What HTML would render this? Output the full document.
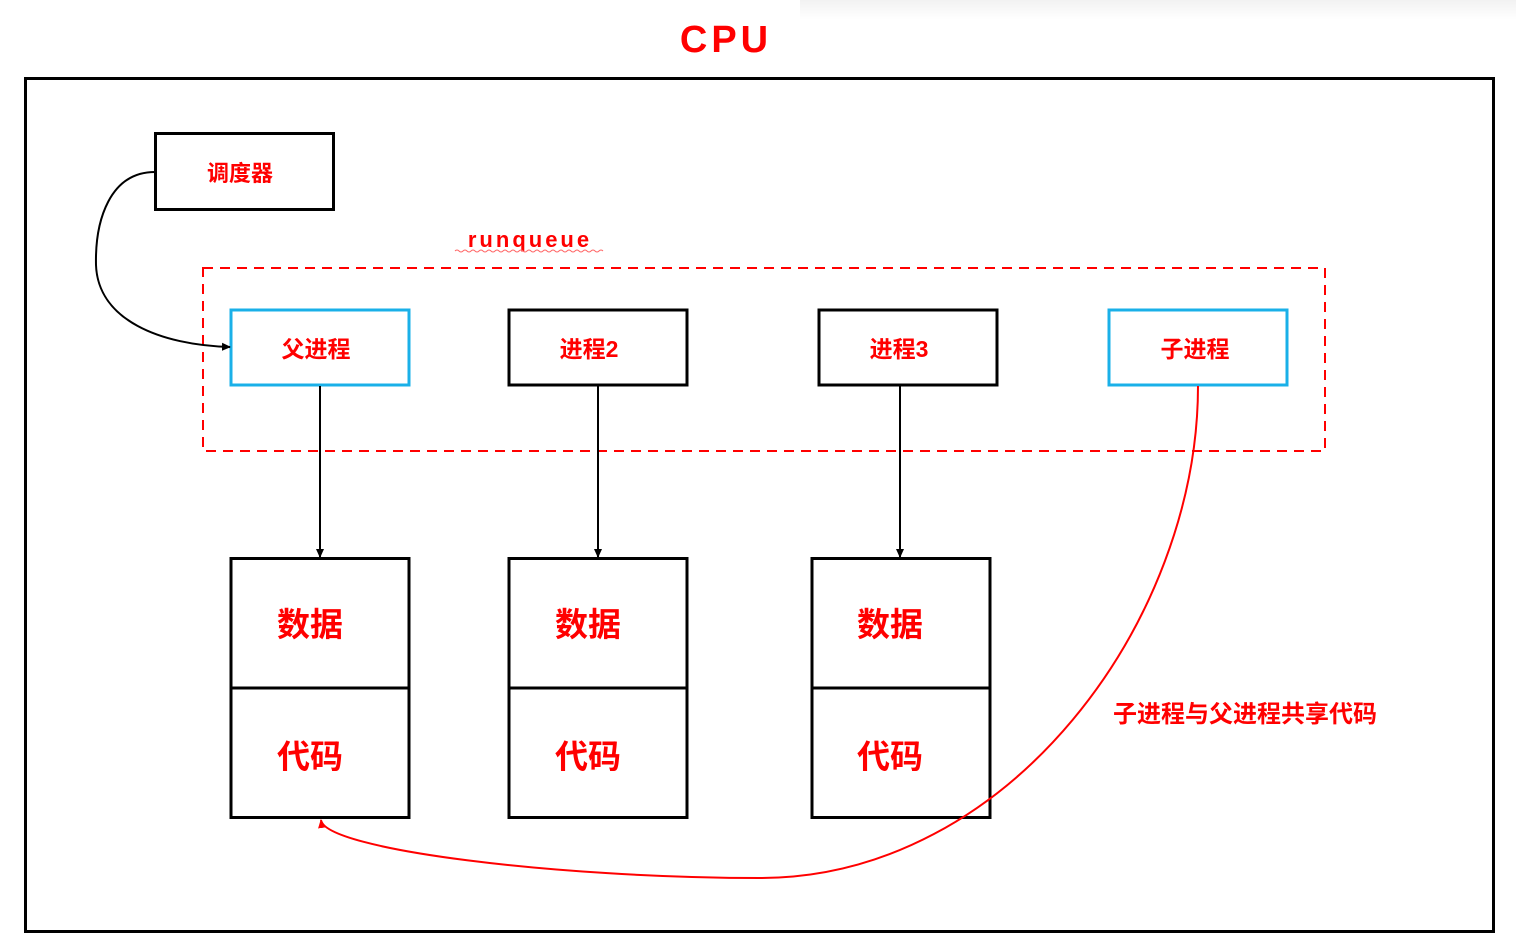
<!DOCTYPE html>
<html><head><meta charset="utf-8">
<style>
html,body{margin:0;padding:0;background:#fff;}
svg{display:block;}
text{font-family:"Liberation Sans","Noto Sans CJK SC",sans-serif;font-weight:bold;fill:#ff0000;}
</style></head>
<body>
<svg width="1516" height="938" viewBox="0 0 1516 938" xmlns="http://www.w3.org/2000/svg">
<defs>
<linearGradient id="sh" x1="0" y1="0" x2="0" y2="1">
<stop offset="0" stop-color="#f2f2f2"/><stop offset="1" stop-color="#fff"/>
</linearGradient>
<marker id="ab" markerWidth="10" markerHeight="10" refX="8" refY="5" orient="auto" markerUnits="userSpaceOnUse">
<path d="M0,1 L9,5 L0,9 Z" fill="#000"/></marker>
<marker id="ar" markerWidth="10" markerHeight="10" refX="8" refY="5" orient="auto" markerUnits="userSpaceOnUse">
<path d="M0,1 L9,5 L0,9 Z" fill="#f00"/></marker>
</defs>
<rect x="800" y="0" width="716" height="20" fill="url(#sh)"/>
<text x="726" y="52" font-size="38" text-anchor="middle" letter-spacing="4">CPU</text>
<rect x="25.5" y="78.5" width="1468" height="853" fill="none" stroke="#000" stroke-width="3"/>
<rect x="155.5" y="133.5" width="178" height="76" fill="none" stroke="#000" stroke-width="3"/>
<text x="240" y="181" font-size="22" text-anchor="middle">调度器</text>
<text x="530" y="247" font-size="22" text-anchor="middle" letter-spacing="3">runqueue</text>
<path d="M455,251 q2,-2 4,0 t4,0 t4,0 t4,0 t4,0 t4,0 t4,0 t4,0 t4,0 t4,0 t4,0 t4,0 t4,0 t4,0 t4,0 t4,0 t4,0 t4,0 t4,0 t4,0 t4,0 t4,0 t4,0 t4,0 t4,0 t4,0 t4,0 t4,0 t4,0 t4,0 t4,0 t4,0 t4,0 t4,0 t4,0 t4,0 t4,0" fill="none" stroke="#f66" stroke-width="1"/>
<rect x="203" y="268" width="1122" height="183" fill="none" stroke="#f00" stroke-width="2" stroke-dasharray="10,7"/>
<rect x="231" y="310" width="178" height="75" fill="none" stroke="#1ab0e8" stroke-width="3"/>
<text x="316" y="357" font-size="23" text-anchor="middle">父进程</text>
<rect x="509" y="310" width="178" height="75" fill="none" stroke="#000" stroke-width="3"/>
<text x="589" y="357" font-size="23" text-anchor="middle">进程2</text>
<rect x="819" y="310" width="178" height="75" fill="none" stroke="#000" stroke-width="3"/>
<text x="899" y="357" font-size="23" text-anchor="middle">进程3</text>
<rect x="1109" y="310" width="178" height="75" fill="none" stroke="#1ab0e8" stroke-width="3"/>
<text x="1195" y="357" font-size="23" text-anchor="middle">子进程</text>
<path d="M155,172 C110,172 95,220 96,265 C98,320 160,345 230,347" fill="none" stroke="#000" stroke-width="2" marker-end="url(#ab)"/>
<line x1="320" y1="386" x2="320" y2="557" stroke="#000" stroke-width="2" marker-end="url(#ab)"/>
<line x1="598" y1="386" x2="598" y2="557" stroke="#000" stroke-width="2" marker-end="url(#ab)"/>
<line x1="900" y1="386" x2="900" y2="557" stroke="#000" stroke-width="2" marker-end="url(#ab)"/>
<g fill="none" stroke="#000" stroke-width="3">
<rect x="231" y="558.5" width="178" height="259"/><line x1="231" y1="688" x2="409" y2="688"/>
<rect x="509" y="558.5" width="178" height="259"/><line x1="509" y1="688" x2="687" y2="688"/>
<rect x="812" y="558.5" width="178" height="259"/><line x1="812" y1="688" x2="990" y2="688"/>
</g>
<g font-size="33" text-anchor="middle">
<text x="310" y="636">数据</text><text x="310" y="768">代码</text>
<text x="588" y="636">数据</text><text x="588" y="768">代码</text>
<text x="890" y="636">数据</text><text x="890" y="768">代码</text>
</g>
<path d="M1198,386 C1198,620 1010,878 760,878 C560,878 325,850 321,820" fill="none" stroke="#f00" stroke-width="2" marker-end="url(#ar)"/>
<text x="1245" y="722" font-size="24" text-anchor="middle">子进程与父进程共享代码</text>
</svg>
</body></html>
